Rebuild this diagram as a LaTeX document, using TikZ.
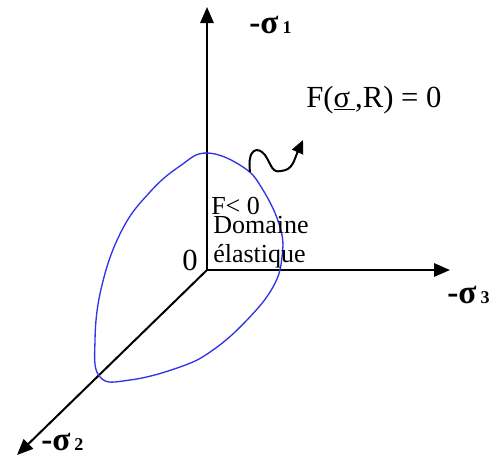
\documentclass[tikz,border=0pt]{standalone}
\usepackage{fontspec}
\setmainfont{Liberation Serif}
\usetikzlibrary{arrows.meta,positioning}
\definecolor{YieldBlue}{RGB}{50,50,235}
\tikzset{
  axis/.style={-{Triangle[length=12pt,width=10pt]},line width=1.5pt},
  flow/.style={-{Triangle[length=10pt,width=9pt]},line width=1.5pt},
  surface/.style={draw=YieldBlue,line width=1pt},
  axlabel/.style={font=\fontsize{25}{27}\selectfont\bfseries,anchor=base west,inner sep=0pt},
  txt/.style={font=\fontsize{19.5}{22}\selectfont,anchor=base west,inner sep=0pt}
}
\newcommand{\idx}[1]{\kern3pt{\fontsize{13.5}{14}\selectfont #1}}

\begin{document}
\begin{tikzpicture}[x=0.75pt,y=-0.75pt]
  \useasboundingbox (0,0) rectangle (489,457);
  % axes
  \coordinate (O) at (207,270);
  \coordinate (s1) at (207,7);
  \coordinate (s3) at (450,270);
  \coordinate (s2) at (17,455);
  \draw[axis] (O) -- (s1);
  \draw[axis] (O) -- (s3);
  \draw[axis] (O) -- (s2);
  % yield surface
  \draw[surface] plot[smooth cycle,tension=0.7] coordinates {
    (207,153) (180,166) (150,192) (122,230) (102,285) (95,340) (100,377)
    (130,380) (180,367) (213,350) (247,320) (273,287) (282,257) (280,227)
    (263,190) (243,167)};
  % normal to the surface
  \coordinate (f0) at (250,172);
  \coordinate (f1) at (303,140);
  \draw[flow] (f0) .. controls (247,148) and (258,146) .. (265,155)
    .. controls (272,166) and (272,173) .. (281,171)
    .. controls (293,170) and (294,160) .. (f1);
  % labels
  \node[axlabel] (l1) at (249,33) {-σ\idx{1}};
  \node[axlabel] (l3) at (447,303) {-σ\idx{3}};
  \node[axlabel] (l2) at (41,450) {-σ\idx{2}};
  \node[txt,font=\fontsize{23}{25}\selectfont] (crit) at (306,107) {F(\underline{σ\,},R) = 0};
  \node[txt] (neg) at (211,214) {F< 0};
  \node[txt] (dom) at (213,233) {Domaine};
  \node[txt] (ela) at (213,262) {élastique};
  \node[txt,font=\fontsize{23}{25}\selectfont,anchor=base east] (zero) at (198,270) {0};
\end{tikzpicture}
\end{document}
